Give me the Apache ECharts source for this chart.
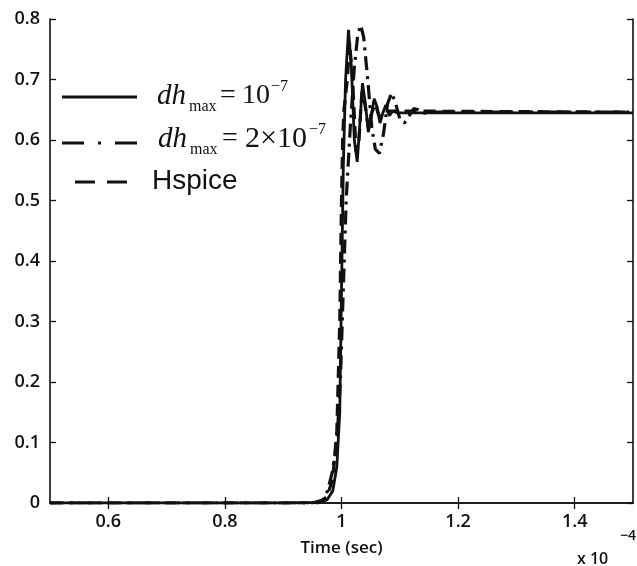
<!DOCTYPE html>
<html>
<head>
<meta charset="utf-8">
<script src="https://cdn.jsdelivr.net/npm/echarts@6/dist/echarts.min.js"></script>
<style>
html,body{margin:0;padding:0;background:#fff;}
#chart{width:637px;height:566px;}
</style>
</head>
<body>
<div id="chart"></div>
<script>
// time values in units of 1e-4 s
const xTicks = [0.6, 0.8, 1.0, 1.2, 1.4];
const yTicks = [0, 0.1, 0.2, 0.3, 0.4, 0.5, 0.6, 0.7, 0.8];

// dh_max = 1e-7 (solid)
const tSolid = [0.5, 0.9, 0.96, 0.975, 0.985, 0.992, 0.997, 1.0, 1.003, 1.007, 1.012, 1.017, 1.022, 1.027, 1.031, 1.036, 1.041, 1.046, 1.051, 1.056, 1.061, 1.066, 1.071, 1.076, 1.082, 1.088, 1.095, 1.5];
const vSolid = [0, 0, 0.001, 0.005, 0.02, 0.06, 0.15, 0.35, 0.55, 0.70, 0.782, 0.72, 0.60, 0.564, 0.62, 0.694, 0.66, 0.613, 0.64, 0.668, 0.655, 0.628, 0.645, 0.658, 0.640, 0.648, 0.645, 0.645];

// dh_max = 2e-7 (dash-dot)
const tDashDot = [0.5, 0.95, 0.968, 0.976, 0.984, 0.992, 0.998, 1.003, 1.008, 1.015, 1.022, 1.028, 1.033, 1.038, 1.045, 1.052, 1.058, 1.065, 1.072, 1.079, 1.086, 1.093, 1.1, 1.108, 1.116, 1.124, 1.132, 1.14, 1.15, 1.5];
const vDashDot = [0, 0, 0.005, 0.02, 0.05, 0.1, 0.2, 0.35, 0.5, 0.62, 0.72, 0.775, 0.79, 0.77, 0.70, 0.62, 0.585, 0.578, 0.61, 0.66, 0.678, 0.66, 0.635, 0.628, 0.64, 0.652, 0.65, 0.644, 0.646, 0.646];

// Hspice (dashed)
const tHspice = [0.5, 0.96, 0.975, 0.985, 0.992, 0.997, 1.0, 1.002, 1.004, 1.01, 1.014, 1.019, 1.025, 1.03, 1.035, 1.04, 1.046, 1.052, 1.058, 1.064, 1.07, 1.5];
const vHspice = [0, 0, 0.01, 0.04, 0.12, 0.3, 0.5, 0.6, 0.648, 0.70, 0.76, 0.70, 0.58, 0.60, 0.68, 0.66, 0.62, 0.645, 0.66, 0.64, 0.648, 0.646];

const zip = (t, v) => t.map((x, i) => [x, v[i]]);
const INK = '#111111';
const serif = '"Liberation Serif","DejaVu Serif",serif';
const sans = '"Open Sans", sans-serif';

function txt(text, x, y, font, align) {
  return { type: 'text', x: x, y: y, silent: true,
    style: { text: text, font: font, fill: INK, align: align || 'left', verticalAlign: 'middle' } };
}
function seg(x1, x2, y, dash, w) {
  return { type: 'line', silent: true,
    shape: { x1: x1, y1: y, x2: x2, y2: y },
    style: { stroke: INK, lineWidth: w, lineDash: dash, lineCap: 'butt' } };
}

const chart = echarts.init(document.getElementById('chart'), null, { renderer: 'canvas' });
const axisLine = { show: true, lineStyle: { color: INK, width: 1.6 } };
const tickStyle = { lineStyle: { color: INK, width: 1.3 } };
const labelFont = { color: INK, fontFamily: sans, fontSize: 18, fontWeight: 600 };
const fmt = v => String(Number(v.toFixed(1)));

chart.setOption({
  animation: false,
  backgroundColor: '#fff',
  grid: { left: 50, right: 4, top: 19, bottom: 63 },
  xAxis: [
    { type: 'value', min: 0.5, max: 1.5, position: 'bottom',
      axisLine: axisLine,
      axisTick: Object.assign({ inside: true, length: 6, customValues: xTicks }, tickStyle),
      axisLabel: Object.assign({ margin: 10, customValues: xTicks, formatter: fmt }, labelFont),
      splitLine: { show: false },
      name: 'Time (sec)', nameLocation: 'middle', nameGap: 37,
      nameTextStyle: { color: INK, fontFamily: sans, fontSize: 17, fontWeight: 600 } },
    { type: 'value', min: 0.5, max: 1.5, position: 'top',
      axisLine: axisLine,
      axisTick: Object.assign({ inside: true, length: 6, customValues: xTicks }, tickStyle),
      axisLabel: { show: false }, splitLine: { show: false } }
  ],
  yAxis: [
    { type: 'value', min: 0, max: 0.8, interval: 0.1, position: 'left',
      axisLine: axisLine,
      axisTick: Object.assign({ inside: true, length: 6, customValues: yTicks }, tickStyle),
      axisLabel: Object.assign({ margin: 10, customValues: yTicks, formatter: fmt }, labelFont),
      splitLine: { show: false } },
    { type: 'value', min: 0, max: 0.8, interval: 0.1, position: 'right',
      axisLine: axisLine,
      axisTick: Object.assign({ inside: true, length: 6, customValues: yTicks }, tickStyle),
      axisLabel: { show: false }, splitLine: { show: false } }
  ],
  series: [
    { name: 'Hspice', type: 'line', data: zip(tHspice, vHspice), showSymbol: false,
      lineStyle: { color: INK, width: 3.2, type: [12, 7], cap: 'butt' } },
    { name: 'dh2', type: 'line', data: zip(tDashDot, vDashDot), showSymbol: false,
      lineStyle: { color: INK, width: 3.2, type: [14, 6, 3, 6], cap: 'butt' } },
    { name: 'dh1', type: 'line', data: zip(tSolid, vSolid), showSymbol: false,
      lineStyle: { color: INK, width: 2.8 } }
  ],
  graphic: [
    // legend row 1 (solid)
    seg(62, 137, 97, null, 2.8),
    txt('dh', 157, 96, 'italic 29px ' + serif),
    txt('max', 189, 107, '16px ' + serif),
    txt('=', 220, 96, '28px ' + serif),
    txt('10', 242, 96, '28px ' + serif),
    txt('\u22127', 271, 87, '16px ' + serif),
    // legend row 2 (dash-dot)
    seg(62, 137, 143, [22, 14, 3, 14], 3.2),
    txt('dh', 158, 139, 'italic 29px ' + serif),
    txt('max', 190, 150, '16px ' + serif),
    txt('=', 222, 139, '28px ' + serif),
    txt('2\u00d710', 245, 139, '30px ' + serif),
    txt('\u22127', 309, 130, '16px ' + serif),
    // legend row 3 (dashed)
    seg(75, 137, 182, [20, 12], 3.2),
    txt('Hspice', 152, 181, '28px "Liberation Sans", Arial, sans-serif'),
    // axis multiplier
    txt('x 10', 577, 559, '600 16px ' + sans),
    txt('\u22124', 620, 536, '600 14px ' + sans)
  ]
});
</script>
</body>
</html>
